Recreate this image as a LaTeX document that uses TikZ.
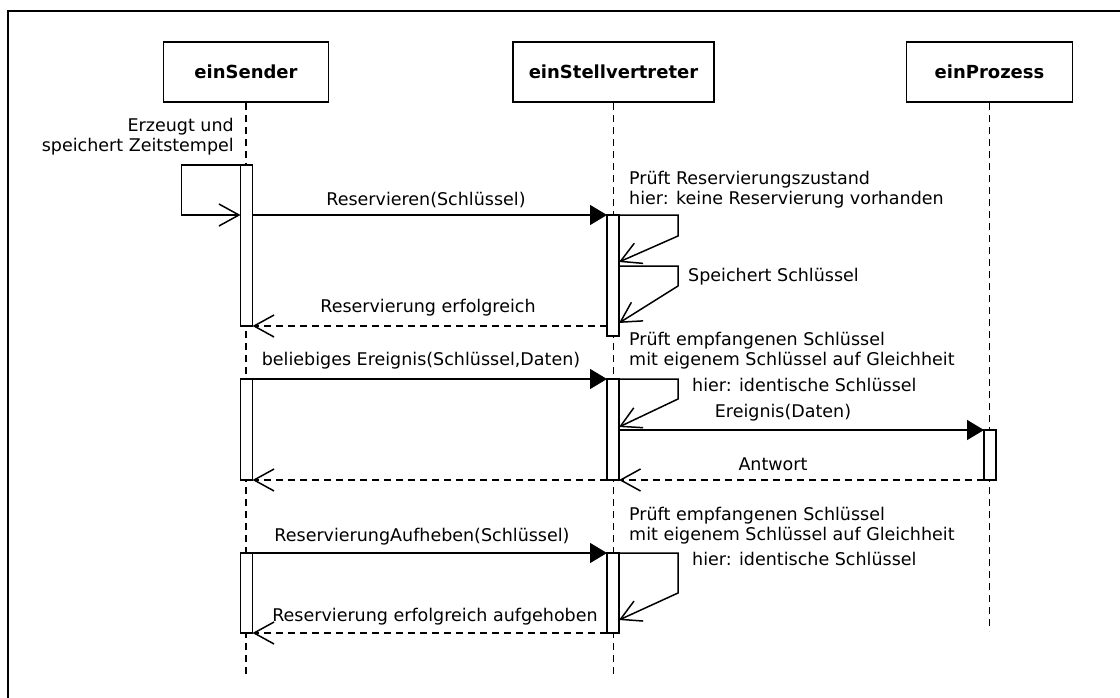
\documentclass[tikz,border=0pt]{standalone}
\usepackage{fontspec}
\setmainfont{DejaVu Sans}
\usetikzlibrary{arrows.meta}

\tikzset{
  obj/.style={draw, line width=1.5pt, minimum height=60pt, inner sep=0pt, font=\fontsize{18}{20}\selectfont\bfseries},
  life/.style={line width=1.5pt, dash pattern=on 7pt off 5pt},
  bar/.style={draw, fill=white, line width=1.5pt, minimum width=12pt, inner sep=0pt, outer sep=0pt},
  call/.style={line width=1.5pt, -{Triangle[length=17pt,width=20pt]}},
  reply/.style={line width=1.5pt, dash pattern=on 7pt off 5pt, -{Straight Barb[length=20pt,width=22pt]}},
  selfcall/.style={line width=1.5pt, -{Straight Barb[length=20pt,width=22pt]}},
  lbl/.style={inner sep=0pt, font=\fontsize{17.5}{20}\selectfont},
}

\begin{document}
\begin{tikzpicture}[x=1pt, y=-1pt]
    \useasboundingbox (0,0) rectangle (1120,697);
    % frame
    \draw[line width=1.5pt] (8,720) -- (8,11) -- (1140,11);

    % objects
    \node[obj, minimum width=165pt] (snd) at (246,72) {einSender};
    \node[obj, minimum width=201pt] (stv) at (613.5,72) {einStellvertreter};
    \node[obj, minimum width=166pt] (prz) at (989.5,72) {einProzess};

    % lifelines
    \draw[life] (snd.south) -- ++(0,574);
    \draw[life] (stv.south) -- ++(0,574);
    \draw[life] (prz.south) -- ++(0,528);

    % activations
    \node[bar, minimum height=161pt] (sb1) at (246.5,245.5) {};
    \node[bar, minimum height=101pt] (sb2) at (246.5,429.5) {};
    \node[bar, minimum height=80pt]  (sb3) at (246.5,593) {};
    \node[bar, minimum height=121pt] (vb1) at (613,275.5) {};
    \node[bar, minimum height=101pt] (vb2) at (613,429.5) {};
    \node[bar, minimum height=80pt]  (vb3) at (613,593) {};
    \node[bar, minimum height=50pt]  (pb1) at (990,455) {};

    % Zeitstempel
    \draw[selfcall] (sb1.north west) -- ++(-59,0) |- (sb1.west |- vb1.north);
    \node[lbl, anchor=east, align=right] (zeit) at (234,137) {Erzeugt und\\speichert Zeitstempel};

    % Reservieren
    \draw[call] (sb1.east |- vb1.north) -- (vb1.north west);
    \node[lbl] (res) at (426,200) {Reservieren(Schlüssel)};
    \draw[selfcall] (vb1.north east) -- ++(59,0) -- ++(0,21) -- ++(-59,26);
    \node[lbl, anchor=west, align=left] (pr1) at (629,190) {Prüft Reservierungszustand\\hier: keine Reservierung vorhanden};
    \coordinate (sp) at (619,266);
    \draw[selfcall] (sp) -- ++(59,0) -- ++(0,20) -- ++(-59,37);
    \node[lbl, anchor=west] (spk) at (688,277) {Speichert Schlüssel};
    \draw[reply] (vb1.west |- sb1.south) -- (sb1.south east);
    \node[lbl] (ok1) at (428,308) {Reservierung erfolgreich};

    % Ereignis
    \draw[call] (sb2.north east) -- (vb2.north west);
    \node[lbl] (ev) at (421,361) {beliebiges Ereignis(Schlüssel,Daten)};
    \draw[selfcall] (vb2.north east) -- ++(59,0) -- ++(0,20) -- ++(-59,28);
    \node[lbl, anchor=west, align=left] (pr2) at (629,351) {Prüft empfangenen Schlüssel\\mit eigenem Schlüssel auf Gleichheit};
    \node[lbl, anchor=west] (id2) at (692,385) {hier: identische Schlüssel};
    \draw[call] (vb2.east |- pb1.north) -- (pb1.north west);
    \node[lbl] (evd) at (783,413) {Ereignis(Daten)};
    \draw[reply] (pb1.south west) -- (vb2.south east);
    \node[lbl] (ant) at (773,464) {Antwort};
    \draw[reply] (vb2.south west) -- (sb2.south east);

    % Aufheben
    \draw[call] (sb3.north east) -- (vb3.north west);
    \node[lbl] (auf) at (422,537) {ReservierungAufheben(Schlüssel)};
    \draw[selfcall] (vb3.north east) -- ++(59,0) -- ++(0,40) -- ++(-59,27);
    \node[lbl, anchor=west, align=left] (pr3) at (629,526) {Prüft empfangenen Schlüssel\\mit eigenem Schlüssel auf Gleichheit};
    \node[lbl, anchor=west] (id3) at (692,559) {hier: identische Schlüssel};
    \draw[reply] (vb3.south west) -- (sb3.south east);
    \node[lbl] (ok3) at (435,617) {Reservierung erfolgreich aufgehoben};
\end{tikzpicture}
\end{document}
